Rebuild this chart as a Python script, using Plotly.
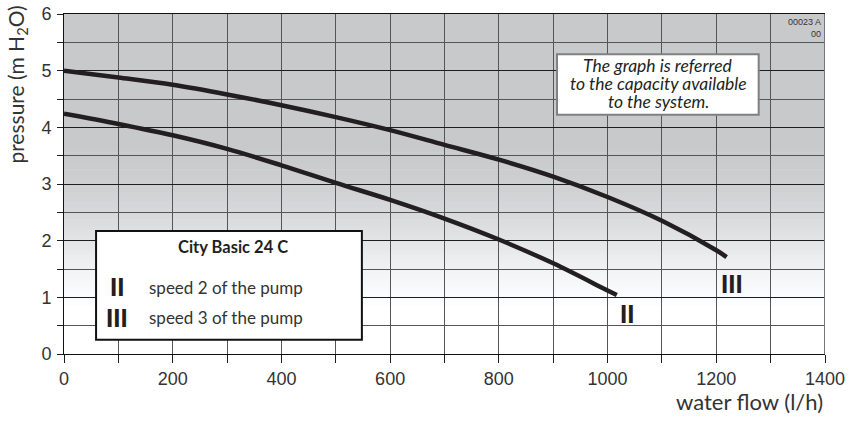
import numpy as np
import plotly.graph_objects as go

# pump curves (flow in l/h, pressure in m H2O)
FLOW_III = [0, 100, 200, 300, 400, 500, 600, 700, 800, 900, 1000, 1100, 1200, 1219]
PRESS_III = [5.0, 4.88, 4.75, 4.58, 4.39, 4.18, 3.95, 3.69, 3.43, 3.13, 2.77, 2.35, 1.83, 1.71]

FLOW_II = [0, 100, 200, 300, 400, 500, 600, 700, 800, 900, 1000, 1017]
PRESS_II = [4.24, 4.06, 3.86, 3.62, 3.33, 3.02, 2.72, 2.39, 2.02, 1.60, 1.12, 1.04]

X_TICKS = [0, 200, 400, 600, 800, 1000, 1200, 1400]
Y_TICKS = [0, 1, 2, 3, 4, 5, 6]

NOTE_LINES = ["The graph is referred", "to the capacity available", "to the system."]

CURVE_COLOR = "#231f20"
TEXT_COLOR = "#333333"
GRID_MAJOR = "#1e1e1e"
GRID_MINOR = "#555555"
SANS = "Liberation Sans, Arial, sans-serif"
HUMANIST = "Lato, Open Sans, sans-serif"

fig = go.Figure()

for x, y, name in [(FLOW_III, PRESS_III, "III"), (FLOW_II, PRESS_II, "II")]:
    fig.add_trace(
        go.Scatter(
            x=x,
            y=y,
            mode="lines",
            name=name,
            line=dict(color=CURVE_COLOR, width=4.5, shape="spline", smoothing=1.0),
            showlegend=False,
            hoverinfo="x+y",
        )
    )

# grey-to-white vertical gradient behind the grid
stop_y = [0.0, 1.0, 1.5, 2.0, 2.5, 3.0, 3.5, 6.0]
stop_g = [255, 252, 241, 227, 215, 206, 201, 200]
step = 0.05
for y0 in np.arange(0.85, 3.6, step):
    g = int(round(np.interp(y0 + step / 2, stop_y, stop_g)))
    fig.add_shape(
        type="rect", xref="x", yref="y", x0=0, x1=1400, y0=y0, y1=y0 + step + 0.01,
        fillcolor=f"rgb({g},{min(g + 1, 255)},{min(g + 3, 255)})", line_width=0, layer="below",
    )
fig.add_shape(
    type="rect", xref="x", yref="y", x0=0, x1=1400, y0=3.6, y1=6,
    fillcolor="rgb(200,201,203)", line_width=0, layer="below",
)

# right border
fig.add_shape(type="line", xref="x", yref="y", x0=1400, x1=1400, y0=0, y1=6,
              line=dict(color="#777777", width=2), layer="above")

# legend box
fig.add_shape(type="rect", xref="x", yref="y", x0=59, x1=548, y0=0.25, y1=2.17,
              fillcolor="white", line=dict(color="#111111", width=2), layer="above")
# note box
fig.add_shape(type="rect", xref="x", yref="y", x0=907, x1=1278, y0=4.22, y1=5.29,
              fillcolor="white", line=dict(color="#808080", width=2), layer="above")

annotations = [
    dict(x=1093, y=y, text=f"<i>{line}</i>",
         font=dict(family=HUMANIST, size=17.5, color=CURVE_COLOR), showarrow=False)
    for line, y in zip(NOTE_LINES, [5.10, 4.775, 4.45])
]
annotations += [
    dict(x=311, y=1.88, text="<b>City Basic 24 C</b>",
         font=dict(family=HUMANIST, size=16.5, color=CURVE_COLOR), showarrow=False),
    dict(x=97, y=1.18, text="<b>II</b>", font=dict(family=SANS, size=26, color=CURVE_COLOR),
         showarrow=False),
    dict(x=97, y=0.64, text="<b>III</b>", font=dict(family=SANS, size=26, color=CURVE_COLOR),
         showarrow=False),
    dict(x=152, y=1.18, text="speed 2 of the pump", xanchor="left",
         font=dict(family=HUMANIST, size=17, color=TEXT_COLOR), showarrow=False),
    dict(x=152, y=0.64, text="speed 3 of the pump", xanchor="left",
         font=dict(family=HUMANIST, size=17, color=TEXT_COLOR), showarrow=False),
    dict(x=1229, y=1.23, text="<b>III</b>", font=dict(family=SANS, size=26, color=CURVE_COLOR),
         showarrow=False),
    dict(x=1036, y=0.71, text="<b>II</b>", font=dict(family=SANS, size=26, color=CURVE_COLOR),
         showarrow=False),
    dict(x=1396, y=5.98, text="00023 A<br>00", xanchor="right", yanchor="top", align="right",
         font=dict(family=SANS, size=9, color=TEXT_COLOR), showarrow=False),
    dict(xref="paper", yref="paper", x=1.0, y=-0.093, text="water flow (l/h)",
         xanchor="right", yanchor="top",
         font=dict(family=HUMANIST, size=22, color=TEXT_COLOR), showarrow=False),
    dict(xref="paper", yref="paper", x=-0.062, y=1.03, text="pressure (m H<sub>2</sub>O)",
         xanchor="center", yanchor="top", textangle=-90,
         font=dict(family=HUMANIST, size=21, color=TEXT_COLOR), showarrow=False),
]
fig.update_layout(annotations=annotations)

fig.update_layout(
    width=852,
    height=424,
    margin=dict(l=64, r=27, t=14, b=70, autoexpand=False),
    paper_bgcolor="white",
    plot_bgcolor="white",
    showlegend=False,
    font=dict(family=SANS, size=18, color=TEXT_COLOR),
    xaxis=dict(
        range=[0, 1400],
        tickvals=X_TICKS,
        ticks="outside",
        ticklen=8,
        tickcolor=GRID_MAJOR,
        showgrid=True,
        gridcolor=GRID_MINOR,
        gridwidth=1,
        zeroline=False,
        showline=True,
        linecolor="#111111",
        linewidth=1,
        mirror=True,
        automargin=False,
        minor=dict(dtick=100, tick0=0, ticks="outside", ticklen=8, tickcolor=GRID_MAJOR,
                   showgrid=True, gridcolor=GRID_MINOR),
        tickfont=dict(family=SANS, size=18, color=TEXT_COLOR),
        fixedrange=True,
    ),
    yaxis=dict(
        range=[0, 6],
        tickvals=Y_TICKS,
        ticks="outside",
        ticklen=6,
        tickcolor=GRID_MAJOR,
        showgrid=True,
        gridcolor=GRID_MAJOR,
        gridwidth=1,
        zeroline=False,
        showline=True,
        linecolor="#111111",
        linewidth=1,
        automargin=False,
        minor=dict(dtick=0.5, tick0=0, ticks="outside", ticklen=6, tickcolor=GRID_MAJOR,
                   showgrid=True, gridcolor=GRID_MINOR),
        tickfont=dict(family=SANS, size=18, color=TEXT_COLOR),
        ticklabelstandoff=2,
        fixedrange=True,
    ),
)

fig.write_html(
    "out.html",
    config={"displayModeBar": False},
    post_script="document.body.style.margin = '0';",
)
